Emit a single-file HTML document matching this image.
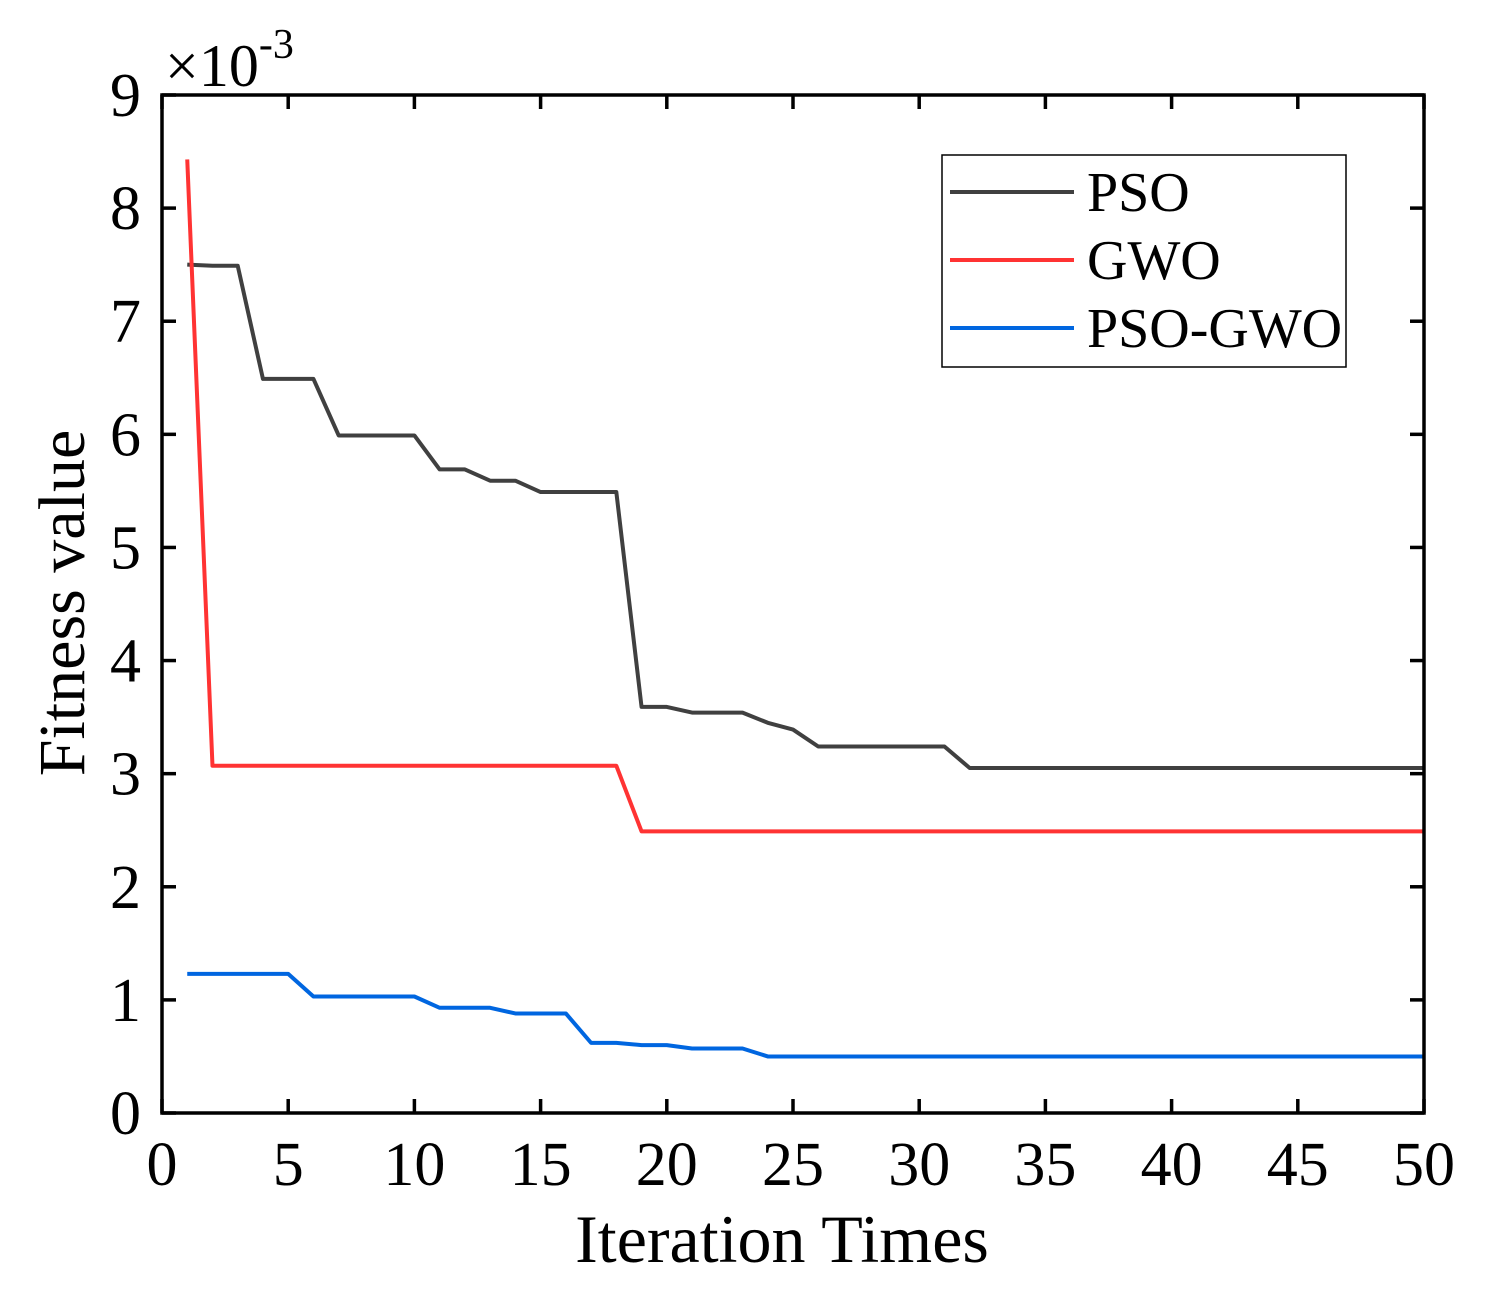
<!DOCTYPE html>
<html><head><meta charset="utf-8"><style>
html,body{margin:0;padding:0;background:#fff}
svg{display:block;font-family:"Liberation Serif",serif}
</style></head><body>
<svg id="chart" width="1504" height="1300" viewBox="0 0 1504 1300" xmlns="http://www.w3.org/2000/svg">
<g id="axes"></g>
<g id="series"></g>
<rect x="162" y="95" width="1262" height="1018" fill="none" stroke="#000" stroke-width="3.5"/>
<text x="165" y="86" font-size="60">×10<tspan dy="-28" font-size="42">-3</tspan></text>
<text x="782" y="1262" font-size="68" text-anchor="middle">Iteration Times</text>
<text transform="translate(84,603) rotate(-90)" font-size="66" text-anchor="middle">Fitness value</text>
<g>
<rect x="942" y="155" width="404" height="212" fill="#fff" stroke="#000" stroke-width="1.5"/>
<line x1="950" y1="192" x2="1074" y2="192" stroke="#404040" stroke-width="4"/>
<text x="1087" y="211" font-size="56">PSO</text>
<line x1="950" y1="260" x2="1074" y2="260" stroke="#ff3333" stroke-width="4"/>
<text x="1087" y="279" font-size="56">GWO</text>
<line x1="950" y1="328" x2="1074" y2="328" stroke="#0066e0" stroke-width="4"/>
<text x="1087" y="347" font-size="56">PSO-GWO</text>
</g>
</svg>
<script>
const xTicks=[0,5,10,15,20,25,30,35,40,45,50];
const yTicks=[0,1,2,3,4,5,6,7,8,9];
const pso=[7.50,7.49,7.49,6.49,6.49,6.49,5.99,5.99,5.99,5.99,5.69,5.69,5.59,5.59,5.49,5.49,5.49,5.49,3.59,3.59,3.54,3.54,3.54,3.45,3.39,3.24,3.24,3.24,3.24,3.24,3.24,3.05,3.05,3.05,3.05,3.05,3.05,3.05,3.05,3.05,3.05,3.05,3.05,3.05,3.05,3.05,3.05,3.05,3.05,3.05];
const gwo=[8.43,3.07,3.07,3.07,3.07,3.07,3.07,3.07,3.07,3.07,3.07,3.07,3.07,3.07,3.07,3.07,3.07,3.07,2.49,2.49,2.49,2.49,2.49,2.49,2.49,2.49,2.49,2.49,2.49,2.49,2.49,2.49,2.49,2.49,2.49,2.49,2.49,2.49,2.49,2.49,2.49,2.49,2.49,2.49,2.49,2.49,2.49,2.49,2.49,2.49];
const psogwo=[1.23,1.23,1.23,1.23,1.23,1.03,1.03,1.03,1.03,1.03,0.93,0.93,0.93,0.88,0.88,0.88,0.62,0.62,0.60,0.60,0.57,0.57,0.57,0.50,0.50,0.50,0.50,0.50,0.50,0.50,0.50,0.50,0.50,0.50,0.50,0.50,0.50,0.50,0.50,0.50,0.50,0.50,0.50,0.50,0.50,0.50,0.50,0.50,0.50,0.50];
const NS='http://www.w3.org/2000/svg';
const X0=162,X1=1424,Y0=1113,Y1=95;
const sx=v=>X0+(v-0)/50*(X1-X0);
const sy=v=>Y0-(v-0)/9*(Y0-Y1);
const axes=document.getElementById('axes');
function mk(t,a){const e=document.createElementNS(NS,t);for(const k in a)e.setAttribute(k,a[k]);return e;}
xTicks.forEach(v=>{
  const x=sx(v);
  const t1=mk('line',{x1:x,y1:Y0,x2:x,y2:Y0-14,stroke:'#000','stroke-width':3.5});
  
  
  axes.appendChild(t1);
  const t2=mk('line',{x1:x,y1:Y1,x2:x,y2:Y1+14,stroke:'#000','stroke-width':3.5});
  
  
  axes.appendChild(t2);
  const l=mk('text',{x:x,y:1185,'font-size':62,'text-anchor':'middle'});
  
  
  l.textContent=v;axes.appendChild(l);
});
yTicks.forEach(v=>{
  const y=sy(v);
  const t1=mk('line',{x1:X0,y1:y,x2:X0+14,y2:y,stroke:'#000','stroke-width':3.5});
  
  
  axes.appendChild(t1);
  const t2=mk('line',{x1:X1,y1:y,x2:X1-14,y2:y,stroke:'#000','stroke-width':3.5});
  
  
  axes.appendChild(t2);
  const l=mk('text',{x:141,y:y+21,'font-size':62,'text-anchor':'end'});
  
  
  l.textContent=v;axes.appendChild(l);
});
const series=document.getElementById('series');
function draw(arr,color,name){
  const pts=arr.map((v,i)=>sx(i+1)+','+sy(v)).join(' ');
  const p=mk('polyline',{points:pts,fill:'none',stroke:color,'stroke-width':4,'stroke-linejoin':'round'});
  
  
  series.appendChild(p);
}
draw(pso,'#404040','pso-line');
draw(gwo,'#ff3333','gwo-line');
draw(psogwo,'#0066e0','pso-gwo-line');
</script>
</body></html>
